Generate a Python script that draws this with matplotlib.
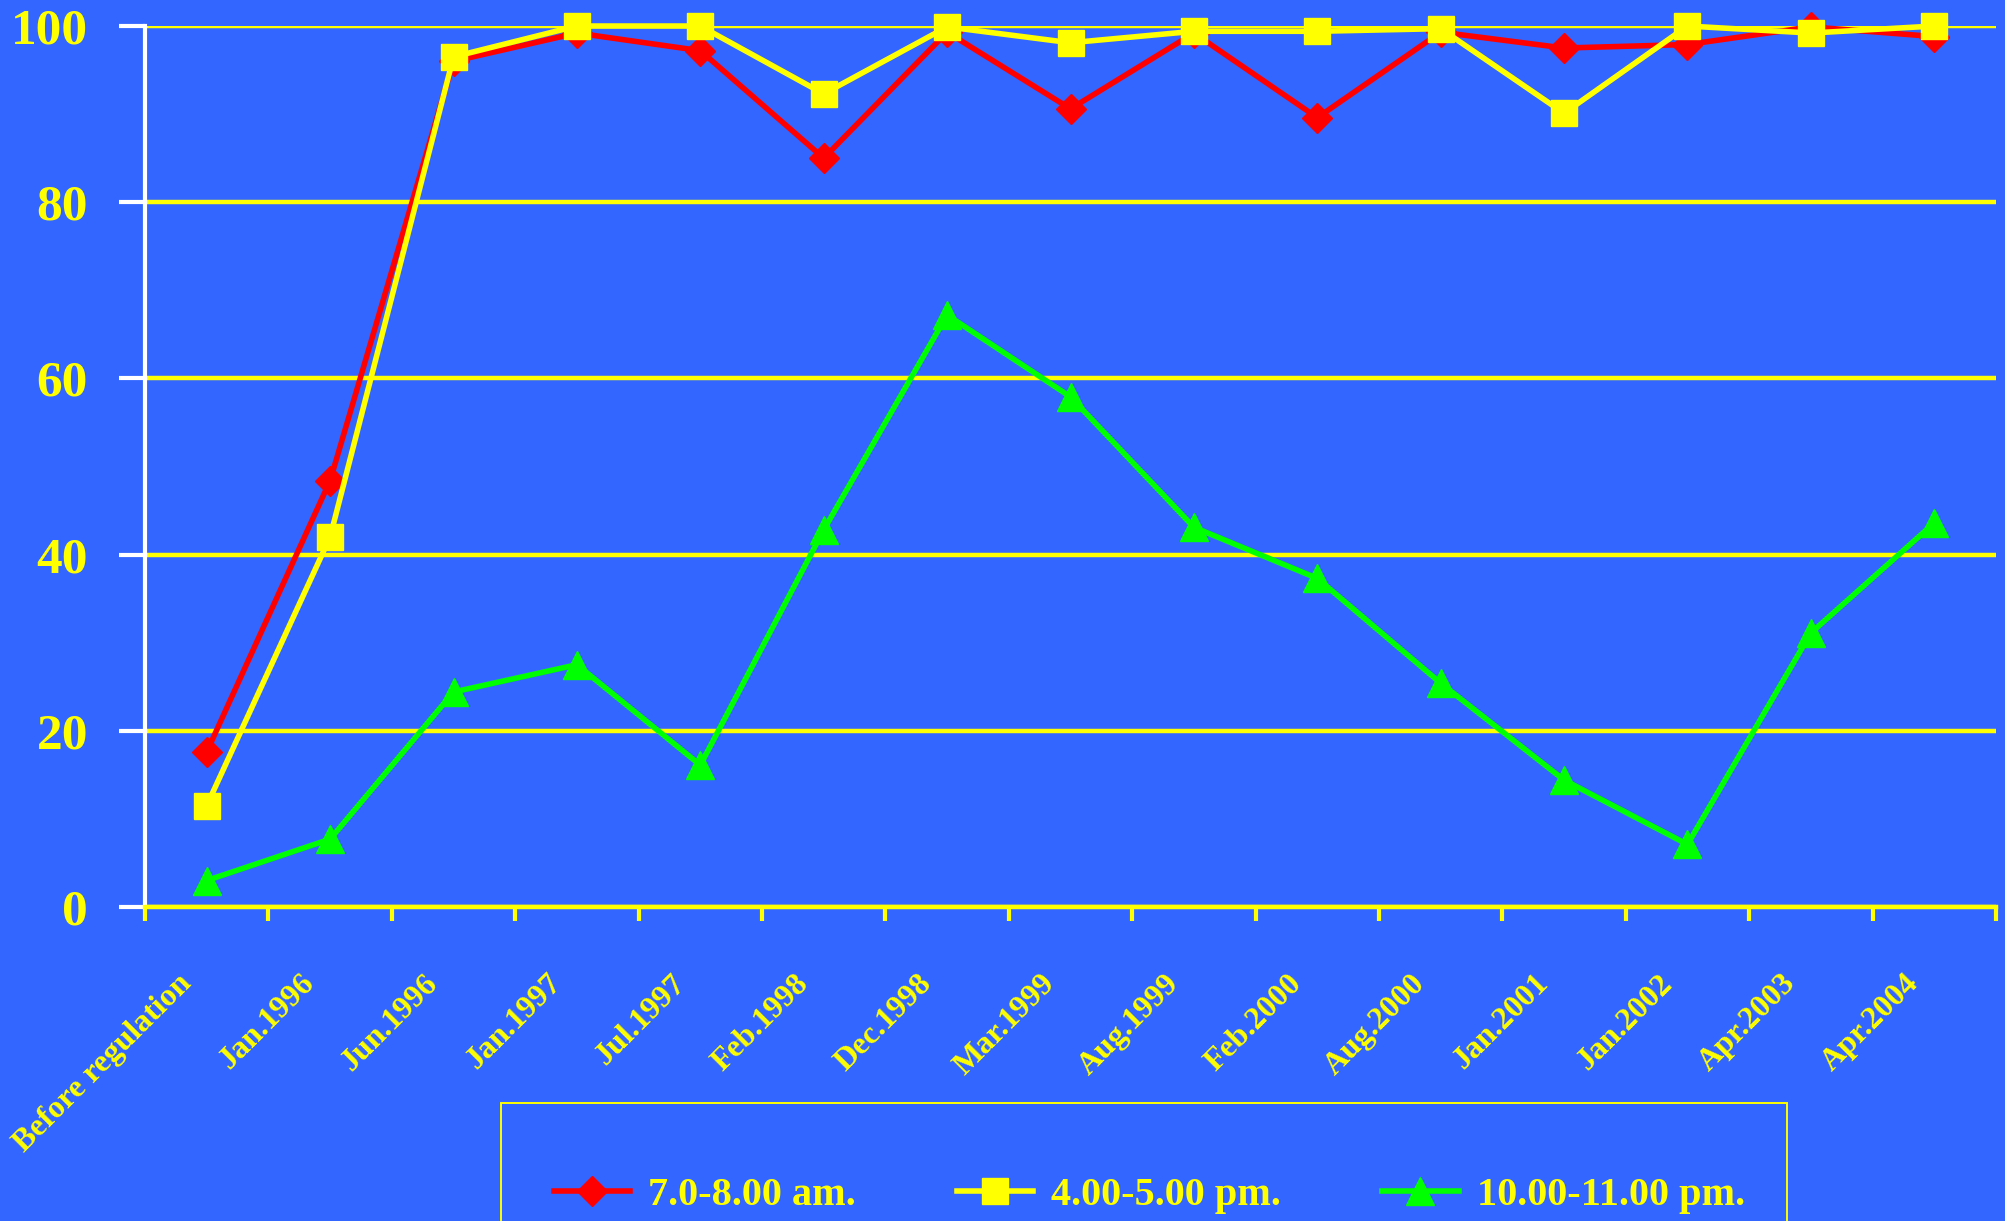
import numpy as np
import matplotlib
matplotlib.use("Agg")
import matplotlib.pyplot as plt
from matplotlib.patches import Rectangle
from matplotlib.transforms import ScaledTranslation

periods = ["Before regulation", "Jan.1996", "Jun.1996", "Jan.1997", "Jul.1997",
           "Feb.1998", "Dec.1998", "Mar.1999", "Aug.1999", "Feb.2000",
           "Aug.2000", "Jan.2001", "Jan.2002", "Apr.2003", "Apr.2004"]

morning = [17.6, 48.4, 96.0, 99.2, 97.2, 85.0, 99.3, 90.6, 99.2, 89.6,
           99.3, 97.5, 97.9, 99.9, 98.8]
afternoon = [11.5, 42.0, 96.5, 100.0, 100.0, 92.3, 99.9, 98.1, 99.4, 99.4,
             99.7, 90.1, 100.0, 99.2, 100.0]
night = [3.0, 7.7, 24.4, 27.5, 16.1, 42.8, 67.2, 57.9, 43.1, 37.3,
         25.4, 14.4, 7.1, 31.1, 43.6]

series_labels = ["7.0-8.00 am.", "4.00-5.00 pm.", "10.00-11.00 pm."]

bg = "#3366FF"
yellow = "#FFFF00"
red = "#FF0000"
green = "#00FF00"
font = "Liberation Serif"

fig = plt.figure(figsize=(20.06, 12.21), dpi=100, facecolor=bg)
ax = fig.add_axes([0.0723, 0.2572, 0.9227, 0.7215])
ax.set_facecolor(bg)

x = np.arange(len(periods))
l1, = ax.plot(x, morning, color=red, lw=4, marker="D", ms=15, clip_on=False, zorder=3)
l2, = ax.plot(x, afternoon, color=yellow, lw=4, marker="s", ms=19, clip_on=False, zorder=4)
l3, = ax.plot(x, night, color=green, lw=4, marker="^", ms=20, clip_on=False, zorder=5)

ax.set_xlim(-0.5, len(periods) - 0.5)
ax.set_ylim(0, 100)

for s in ["top", "right"]:
    ax.spines[s].set_visible(False)
ax.spines["left"].set_color("white")
ax.spines["left"].set_linewidth(3)
ax.spines["bottom"].set_color(yellow)
ax.spines["bottom"].set_linewidth(3.2)

ax.yaxis.grid(True, color=yellow, lw=3.2)
ax.set_axisbelow(True)

ax.set_yticks(np.arange(0, 101, 20))
ax.tick_params(axis="y", colors="white", length=19, width=3, pad=22,
               labelcolor=yellow, labelsize=37)
for t in ax.get_yticklabels():
    t.set_fontfamily(font)
    t.set_fontweight("bold")

ax.set_xticks(np.arange(-0.5, len(periods), 1))
ax.set_xticklabels([])
ax.tick_params(axis="x", which="major", colors=yellow, length=10, width=3)
ax.set_xticks(x, minor=True)
ax.set_xticklabels(periods, minor=True, rotation=45, ha="right",
                   rotation_mode="anchor", va="center")
ax.tick_params(axis="x", which="minor", length=0, pad=52,
               labelcolor=yellow, labelsize=23)
shift = ScaledTranslation(-14 / 72, 0, fig.dpi_scale_trans)
for t in ax.get_xticklabels(minor=True):
    t.set_fontfamily(font)
    t.set_fontweight("bold")
    t.set_transform(t.get_transform() + shift)

leg = fig.legend([l1, l2, l3], series_labels, loc="center left",
                 bbox_to_anchor=(0.276, 0.021), bbox_transform=fig.transFigure,
                 ncol=3, frameon=False, borderpad=0, borderaxespad=0,
                 handlelength=1.9, handletextpad=0.45, columnspacing=2.5,
                 prop={"family": font, "weight": "bold", "size": 29})
for t in leg.get_texts():
    t.set_color(yellow)

fig.patches.append(Rectangle((0.25, -0.1), 0.641, 0.1966, transform=fig.transFigure,
                             facecolor="none", edgecolor=yellow, lw=1.4))

fig.savefig("out.png", dpi=100, facecolor=bg)
